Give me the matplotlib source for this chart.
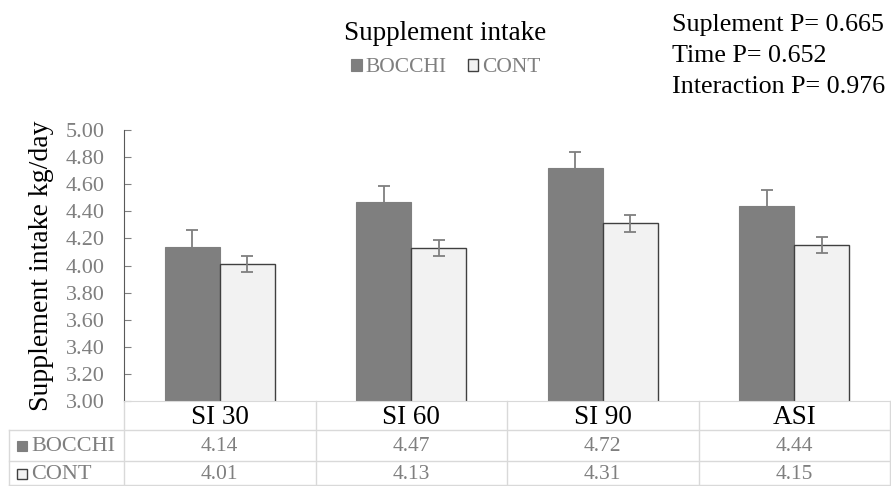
import matplotlib
matplotlib.use("Agg")
import matplotlib.pyplot as plt
import matplotlib.transforms as mtransforms
from matplotlib.patches import Rectangle
import numpy as np

plt.rcParams['font.family'] = ['Liberation Serif', 'DejaVu Serif']

# data
categories = ['SI 30', 'SI 60', 'SI 90', 'ASI']
bocchi = [4.14, 4.47, 4.72, 4.44]
cont = [4.01, 4.13, 4.31, 4.15]
bocchi_err = [0.12, 0.12, 0.12, 0.12]
cont_err = [0.06, 0.06, 0.06, 0.06]
p_text = ['Suplement P= 0.665', 'Time P= 0.652', 'Interaction P= 0.976']

grey_txt = '#7f7f7f'
grid_c = '#d9d9d9'

fig = plt.figure(figsize=(8.91, 4.86), dpi=100)
ax = fig.add_axes([124/891, 1-401/486, (890-124)/891, (401-130)/486])

x = np.arange(len(categories))
w = 0.287
b1 = ax.bar(x - w/2, bocchi, w, color='#7f7f7f', edgecolor='#7f7f7f', lw=0.8,
            label='BOCCHI', zorder=2)
b2 = ax.bar(x + w/2, cont, w, color='#f2f2f2', edgecolor='#404040', lw=1.0,
            label='CONT', zorder=2)
ax.errorbar(x - w/2, bocchi, yerr=bocchi_err, fmt='none', ecolor='#7f7f7f',
            elinewidth=1.3, capsize=4, capthick=1.3, zorder=3)
ax.errorbar(x + w/2, cont, yerr=cont_err, fmt='none', ecolor='#7f7f7f',
            elinewidth=1.3, capsize=4, capthick=1.3, zorder=3)

ax.set_xlim(-0.5, len(categories) - 0.5)
ax.set_ylim(3.0, 5.0)
ax.set_yticks(np.arange(3.0, 5.01, 0.2))
ax.set_yticklabels(['%.2f' % v for v in np.arange(3.0, 5.01, 0.2)])
ax.tick_params(axis='y', direction='in', length=5, color='#808080',
               labelcolor=grey_txt, labelsize=16, pad=14)
ax.set_xticks([])
for s in ['top', 'right']:
    ax.spines[s].set_visible(False)
ax.spines['left'].set_color('#595959')
ax.spines['bottom'].set_color(grid_c)
ax.set_ylabel('Supplement intake kg/day', fontsize=20, labelpad=8)

# title, legend and p values
fig.text(0.5, 1-33/486, 'Supplement intake', ha='center', va='center', fontsize=19.5)
fig.legend(handles=[b1, b2], labels=['BOCCHI', 'CONT'], loc='center',
           bbox_to_anchor=(0.5, 1-68/486), ncol=2, frameon=False, fontsize=15.5,
           handlelength=0.5, handleheight=0.5, handletextpad=0.15,
           columnspacing=1.0, labelcolor=grey_txt)
for i, t in enumerate(p_text):
    fig.text(672/891, 1-(25 + 31*i)/486, t, ha='left', va='center', fontsize=18.7)

# data table under the axis
tr = mtransforms.blended_transform_factory(ax.transData, fig.transFigure)
y_head, y_r1, y_r2 = 1-418/486, 1-446/486, 1-474/486
y_l1, y_l2, y_bot = 1-430/486, 1-461/486, 0.002
x0 = 9/891
for xi, c in enumerate(categories):
    ax.text(xi, y_head, c, transform=tr, ha='center', va='center', fontsize=19.5,
            clip_on=False)
    ax.text(xi, y_r1, '%.2f' % bocchi[xi], transform=tr, ha='center',
            va='center', fontsize=15.5, color=grey_txt, clip_on=False)
    ax.text(xi, y_r2, '%.2f' % cont[xi], transform=tr, ha='center',
            va='center', fontsize=15.5, color=grey_txt, clip_on=False)
# vertical dividers
for xb in np.arange(-0.5, len(categories), 1.0):
    ax.plot([xb, xb], [y_bot, 1-401/486], transform=tr, color=grid_c, lw=1,
            clip_on=False)
fig.add_artist(plt.Line2D([x0, x0], [y_bot, y_l1], color=grid_c, lw=1))
for yl in [y_l1, y_l2, y_bot]:
    fig.add_artist(plt.Line2D([x0, 890/891], [yl, yl], color=grid_c, lw=1))
# legend keys in the row headers
sq_w, sq_h = 10/891, 10/486
fig.add_artist(Rectangle((17/891, y_r1 - sq_h/2), sq_w, sq_h,
                         transform=fig.transFigure, facecolor='#7f7f7f',
                         edgecolor='#7f7f7f', lw=0.8))
fig.add_artist(Rectangle((17/891, y_r2 - sq_h/2), sq_w, sq_h,
                         transform=fig.transFigure, facecolor='#f2f2f2',
                         edgecolor='#404040', lw=1.0))
fig.text(x0 + 22/891, y_r1, 'BOCCHI', ha='left', va='center', fontsize=16,
         color=grey_txt)
fig.text(x0 + 22/891, y_r2, 'CONT', ha='left', va='center', fontsize=16,
         color=grey_txt)

fig.savefig('out.png', dpi=100)
